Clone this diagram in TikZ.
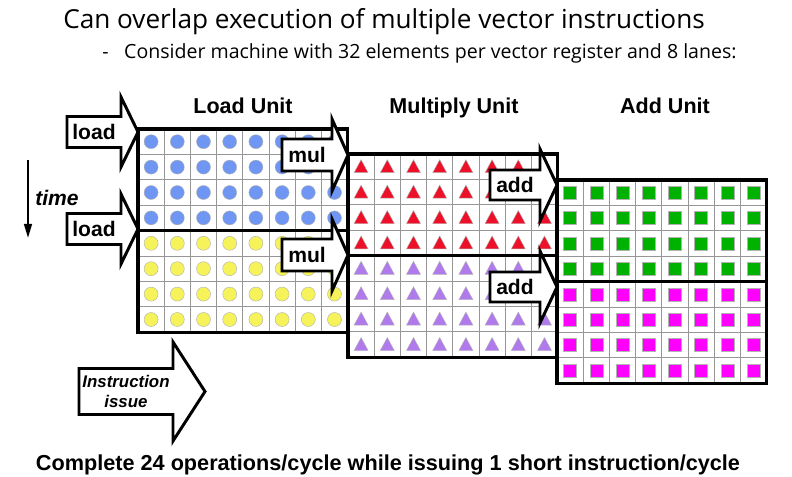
\documentclass[tikz,border=0pt]{standalone}
\usepackage{fontspec}
\setmainfont{Liberation Sans}
\newfontfamily\handfont{Open Sans}
\usetikzlibrary{arrows.meta}

\definecolor{ldblue}{RGB}{110,150,242}
\definecolor{ldyellow}{RGB}{246,242,90}
\definecolor{mulred}{RGB}{236,16,40}
\definecolor{mulpurple}{RGB}{176,122,236}
\definecolor{addgreen}{RGB}{0,178,0}
\definecolor{addmagenta}{RGB}{255,0,255}
\definecolor{cellgrey}{RGB}{150,150,150}

\newcommand{\cellw}{26.2}
\newcommand{\cellh}{25.4}

\tikzset{
  cell/.style     = {draw=cellgrey, line width=0.6pt},
  bank/.style     = {draw=black, line width=2.2pt},
  marker/.style   = {draw=black!30, line width=0.3pt},
  blockarr/.style = {draw=black, fill=white, line width=2.1pt, line join=miter},
  arrlab/.style   = {font=\fontsize{15}{15}\selectfont\bfseries, inner sep=0pt, align=center},
  issuelab/.style = {font=\fontsize{12}{14.5}\selectfont\bfseries\itshape, inner sep=0pt, align=center},
  unithead/.style = {font=\fontsize{15.3}{16}\selectfont\bfseries, anchor=base},
  titletext/.style= {font=\handfont\fontsize{18.6}{20}\selectfont, anchor=base west, inner sep=0pt},
  subtext/.style  = {font=\handfont\fontsize{13.9}{15}\selectfont, anchor=base west, inner sep=0pt},
  timearr/.style  = {line width=1.5pt, -{Triangle[length=10pt,width=5.5pt]}},
}

% fat outlined arrow: [label style] name, tip x, tip y, shaft length, head length, half head, half shaft, label
\newcommand{\blockarrow}[9][arrlab]{%
  \draw[blockarr] (#3,#4) -- ++(-#6,-#7) -- ++(0,#7-#8) -- ++(-#5,0)
    -- ++(0,2*#8) -- ++(#5,0) -- ++(0,#7-#8) -- cycle;
  \node[#1] (#2) at ({#3-#6-#5/2},#4) {#9};
}

\begin{document}
\begin{tikzpicture}[x=0.025cm, y=-0.025cm]
\useasboundingbox (0,0) rectangle (792,476);

\node[titletext] (title) at (63,28) {Can overlap execution of multiple vector instructions};
\node[subtext] (subtitle) at (102,58) {-\hspace{0.8em}Consider machine with 32 elements per vector register and 8 lanes:};

\node[unithead] (loadhd) at (243,113) {Load Unit};
\node[unithead] (mulhd) at (454,113) {Multiply Unit};
\node[unithead] (addhd) at (665,113) {Add Unit};

% load unit
\begin{scope}[shift={(138,129)}]
\foreach \c in {1,...,7} \draw[cell] ({\c*\cellw},0) -- ({\c*\cellw},{8*\cellh});
\foreach \r in {1,...,7} \draw[cell] (0,{\r*\cellh}) -- ({8*\cellw},{\r*\cellh});
\foreach \r in {0,...,7} \foreach \c in {0,...,7} {
  \ifnum\r<4 \def\mk{ldblue}\else\def\mk{ldyellow}\fi
  \filldraw[marker, fill=\mk] ({(\c+0.5)*\cellw},{(\r+0.5)*\cellh}) circle (7);
}
\draw[bank] (0,0) rectangle ({8*\cellw},{4*\cellh});
\draw[bank] (0,{4*\cellh}) rectangle ({8*\cellw},{8*\cellh});
\end{scope}

% multiply unit
\begin{scope}[shift={(348,154)}]
\foreach \c in {1,...,7} \draw[cell] ({\c*\cellw},0) -- ({\c*\cellw},{8*\cellh});
\foreach \r in {1,...,7} \draw[cell] (0,{\r*\cellh}) -- ({8*\cellw},{\r*\cellh});
\foreach \r in {0,...,7} \foreach \c in {0,...,7} {
  \ifnum\r<4 \def\mk{mulred}\else\def\mk{mulpurple}\fi
  \filldraw[marker, fill=\mk] ({(\c+0.5)*\cellw-7},{(\r+0.5)*\cellh+6}) -- ++(14,0) -- ++(-7,-13) -- cycle;
}
\draw[bank] (0,0) rectangle ({8*\cellw},{4*\cellh});
\draw[bank] (0,{4*\cellh}) rectangle ({8*\cellw},{8*\cellh});
\end{scope}

% add unit
\begin{scope}[shift={(557,180)}]
\foreach \c in {1,...,7} \draw[cell] ({\c*\cellw},0) -- ({\c*\cellw},{8*\cellh});
\foreach \r in {1,...,7} \draw[cell] (0,{\r*\cellh}) -- ({8*\cellw},{\r*\cellh});
\foreach \r in {0,...,7} \foreach \c in {0,...,7} {
  \ifnum\r<4 \def\mk{addgreen}\else\def\mk{addmagenta}\fi
  \filldraw[marker, fill=\mk] ({(\c+0.5)*\cellw-6.5},{(\r+0.5)*\cellh-6.5}) rectangle ++(13,13);
}
\draw[bank] (0,0) rectangle ({8*\cellw},{4*\cellh});
\draw[bank] (0,{4*\cellh}) rectangle ({8*\cellw},{8*\cellh});
\end{scope}

% issue arrows
\blockarrow{load1}{138}{132}{54}{17}{35}{15.5}{load}
\blockarrow{load2}{138}{229}{54}{17}{35}{15.5}{load}
\blockarrow{mul1}{348}{155}{50}{16}{36}{16}{mul}
\blockarrow{mul2}{348}{255}{50}{16}{36}{16}{mul}
\blockarrow{add1}{557}{185}{50}{17}{36}{15}{add}
\blockarrow{add2}{557}{287}{50}{17}{36}{15}{add}
\blockarrow[issuelab]{issue}{205}{391.5}{94}{32}{49.5}{23}{Instruction\\issue}

% time axis
\node[font=\fontsize{15}{15}\selectfont\bfseries\itshape, inner sep=0pt] (time) at (57,198) {time};
\coordinate (tstart) at (28,160);
\coordinate (tend) at (28,238);
\draw[timearr] (tstart) -- (tend);

\node[font=\fontsize{15.4}{17}\selectfont\bfseries, anchor=base] (summary) at (388,470)
  {Complete 24 operations/cycle while issuing 1 short instruction/cycle};
\end{tikzpicture}
\end{document}
